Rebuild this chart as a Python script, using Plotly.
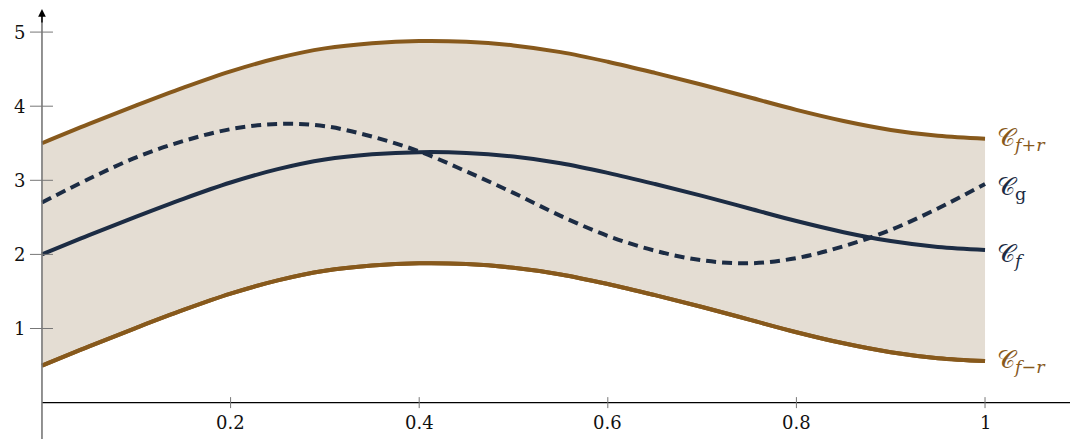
import plotly.graph_objects as go

# ---- data ----
x_vals = [0.0, 0.05, 0.1, 0.15, 0.2, 0.25, 0.3, 0.35, 0.4, 0.45, 0.5,
          0.55, 0.6, 0.65, 0.7, 0.75, 0.8, 0.85, 0.9, 0.95, 1.0]
f_vals = [2.00, 2.26, 2.51, 2.75, 2.97, 3.15, 3.28, 3.35, 3.38, 3.37, 3.32,
          3.23, 3.10, 2.95, 2.79, 2.62, 2.45, 2.30, 2.18, 2.10, 2.06]
upper_vals = [3.50, 3.76, 4.01, 4.25, 4.47, 4.65, 4.78, 4.85, 4.88, 4.87, 4.82,
              4.73, 4.60, 4.45, 4.29, 4.12, 3.95, 3.80, 3.68, 3.60, 3.56]
lower_vals = [0.50, 0.76, 1.01, 1.25, 1.47, 1.65, 1.78, 1.85, 1.88, 1.87, 1.82,
              1.73, 1.60, 1.45, 1.29, 1.12, 0.95, 0.80, 0.68, 0.60, 0.56]
g_vals = [2.70, 3.02, 3.31, 3.53, 3.69, 3.76, 3.73, 3.59, 3.39, 3.12, 2.83,
          2.52, 2.25, 2.05, 1.92, 1.88, 1.95, 2.11, 2.33, 2.62, 2.95]

x_ticks = [0.2, 0.4, 0.6, 0.8, 1.0]
x_tick_labels = ["0.2", "0.4", "0.6", "0.8", "1"]
y_ticks = [1, 2, 3, 4, 5]
y_tick_labels = ["1", "2", "3", "4", "5"]

BROWN = "#87591c"
NAVY = "#1c2c44"
FILL = "#e4ddd3"
GREY = "#777777"

# pixel geometry helpers (plot area = full 1070x439 window)
X_RANGE = [-0.0445, 1.0901]
Y_RANGE = [-0.491, 5.433]
px_x = (X_RANGE[1] - X_RANGE[0]) / 1070.0
px_y = (Y_RANGE[1] - Y_RANGE[0]) / 439.0

LW = 4

fig = go.Figure()

fig.add_trace(go.Scatter(x=x_vals, y=lower_vals, mode="lines",
                         line=dict(color=BROWN, width=LW, shape="spline"),
                         hoverinfo="skip", showlegend=False))
fig.add_trace(go.Scatter(x=x_vals, y=upper_vals, mode="lines",
                         line=dict(color=BROWN, width=LW, shape="spline"),
                         fill="tonexty", fillcolor=FILL,
                         hoverinfo="skip", showlegend=False))
fig.add_trace(go.Scatter(x=x_vals, y=lower_vals, mode="lines",
                         line=dict(color=BROWN, width=LW, shape="spline"),
                         hoverinfo="skip", showlegend=False))
fig.add_trace(go.Scatter(x=x_vals, y=f_vals, mode="lines",
                         line=dict(color=NAVY, width=LW, shape="spline"),
                         hoverinfo="skip", showlegend=False))
fig.add_trace(go.Scatter(x=x_vals, y=g_vals, mode="lines",
                         line=dict(color=NAVY, width=LW, shape="spline", dash="10px,6px"),
                         hoverinfo="skip", showlegend=False))

shapes = []
shapes.append(dict(type="line", xref="x", yref="y", x0=0, x1=X_RANGE[1], y0=0, y1=0,
                   line=dict(color="black", width=1.3), layer="above"))
shapes.append(dict(type="line", xref="x", yref="y", x0=0, x1=0, y0=Y_RANGE[0], y1=Y_RANGE[1] - 14 * px_y,
                   line=dict(color=GREY, width=1.6), layer="above"))
for t in y_ticks:
    shapes.append(dict(type="line", xref="x", yref="y", x0=-12 * px_x, x1=11 * px_x, y0=t, y1=t,
                       line=dict(color=GREY, width=1), layer="above"))
for t in x_ticks:
    shapes.append(dict(type="line", xref="x", yref="y", x0=t, x1=t, y0=-5.5 * px_y, y1=5.5 * px_y,
                       line=dict(color=GREY, width=1), layer="above"))

annotations = []
annotations.append(dict(x=0, y=Y_RANGE[1] - 9 * px_y, ax=0, ay=Y_RANGE[1] - 24 * px_y,
                        xref="x", yref="y", axref="x", ayref="y", text="",
                        showarrow=True, arrowhead=2, arrowsize=1.1, arrowwidth=1.4,
                        arrowcolor="black"))
TICK_FONT = dict(family="DejaVu Serif", size=18, color="#111111")
for t, lab in zip(y_ticks, y_tick_labels):
    annotations.append(dict(x=-15 * px_x, y=t, xref="x", yref="y", text=lab,
                            showarrow=False, xanchor="right", yanchor="middle", font=TICK_FONT))
for t, lab in zip(x_ticks, x_tick_labels):
    annotations.append(dict(x=t, y=-7 * px_y, xref="x", yref="y", text=lab,
                            showarrow=False, xanchor="center", yanchor="top", font=TICK_FONT))

LABEL_FONT_B = dict(family="DejaVu Serif", size=25, color=BROWN)
LABEL_FONT_N = dict(family="DejaVu Serif", size=25, color=NAVY)
lab_x = 1.0 + 10 * px_x
annotations.append(dict(x=lab_x, y=upper_vals[-1], xref="x", yref="y",
                        text="𝒞<sub><i>f</i>+<i>r</i></sub>", showarrow=False,
                        xanchor="left", yanchor="middle", font=LABEL_FONT_B))
annotations.append(dict(x=lab_x, y=g_vals[-1] - 0.05, xref="x", yref="y",
                        text="𝒞<sub>g</sub>", showarrow=False,
                        xanchor="left", yanchor="middle", font=LABEL_FONT_N))
annotations.append(dict(x=lab_x, y=f_vals[-1] - 0.07, xref="x", yref="y",
                        text="𝒞<sub><i>f</i></sub>", showarrow=False,
                        xanchor="left", yanchor="middle", font=LABEL_FONT_N))
annotations.append(dict(x=lab_x, y=lower_vals[-1], xref="x", yref="y",
                        text="𝒞<sub><i>f</i>−<i>r</i></sub>", showarrow=False,
                        xanchor="left", yanchor="middle", font=LABEL_FONT_B))

fig.update_layout(
    width=1070, height=439,
    margin=dict(l=0, r=0, t=0, b=0),
    paper_bgcolor="white", plot_bgcolor="white",
    xaxis=dict(range=X_RANGE, visible=False, fixedrange=True),
    yaxis=dict(range=Y_RANGE, visible=False, fixedrange=True),
    shapes=shapes, annotations=annotations,
    showlegend=False,
)

fig.write_html("out.html", config={"displayModeBar": False},
               post_script="document.body.style.margin='0px';document.body.style.overflow='hidden';")
